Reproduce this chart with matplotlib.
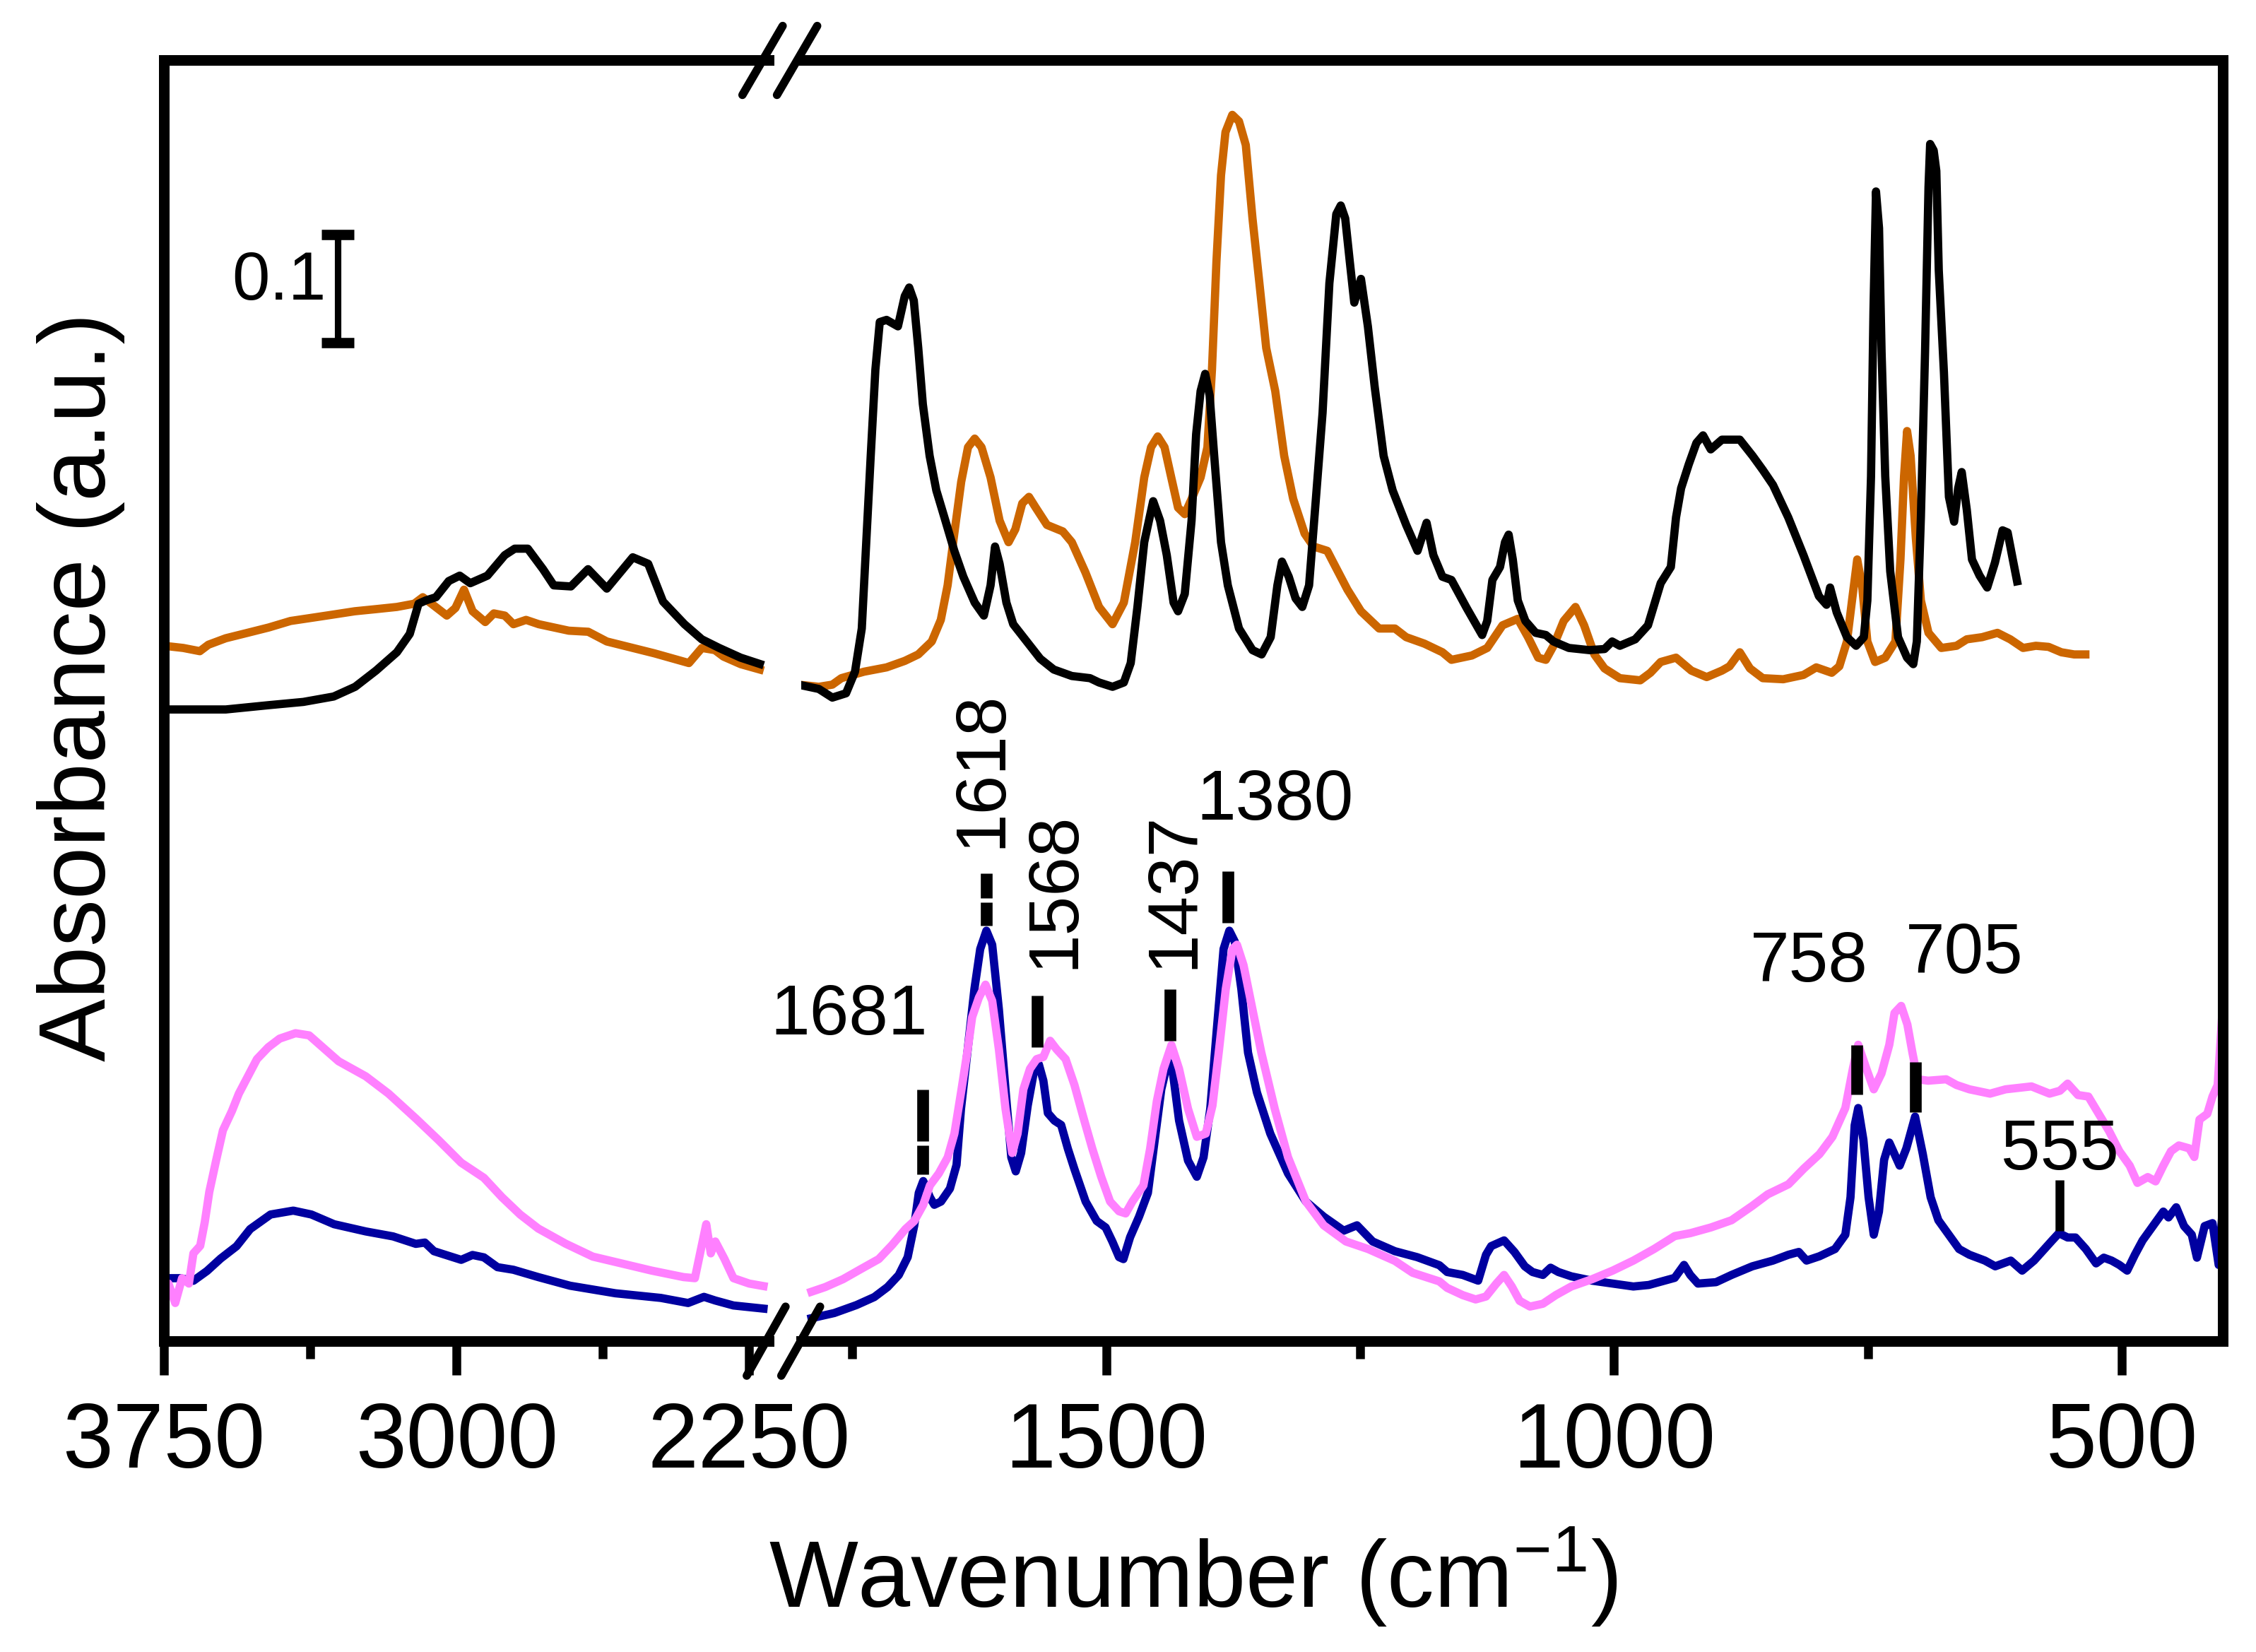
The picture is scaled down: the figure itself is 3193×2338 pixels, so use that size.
import matplotlib
matplotlib.use("Agg")
import matplotlib.pyplot as plt
from matplotlib.lines import Line2D
from matplotlib.ticker import FixedLocator, NullFormatter

plt.rcParams['font.family'] = ['Liberation Sans', 'DejaVu Sans']
plt.rcParams['mathtext.fontset'] = 'custom'
plt.rcParams['mathtext.rm'] = 'Liberation Sans'
plt.rcParams['mathtext.it'] = 'Liberation Sans:italic'

# ---------------- data (wavenumber cm-1, absorbance) ----------------
black_hi = [(3750, 0.580), (3744.5, 0.580), (3591.5, 0.580), (3481, 0.584), (3392.5, 0.587), (3315, 0.592),
            (3260, 0.601), (3206.5, 0.616), (3153, 0.633), (3120, 0.650), (3097.5, 0.678), (3079, 0.681),
            (3053, 0.684), (3020, 0.699), (2992, 0.704), (2965, 0.697), (2921, 0.704), (2876.5, 0.723),
            (2851, 0.729), (2817.5, 0.729), (2778.5, 0.710), (2751, 0.695), (2707, 0.694), (2663, 0.710),
            (2615, 0.692), (2548.5, 0.721), (2509, 0.715), (2471, 0.680), (2416, 0.659), (2371.5, 0.645),
            (2327, 0.637), (2272, 0.628), (2213, 0.621)]

black_lo = [(1803, 0.603), (1783, 0.599), (1769.7, 0.591), (1756.2, 0.595), (1747.4, 0.615), (1740.7, 0.655),
            (1736.3, 0.735), (1731.9, 0.815), (1727.3, 0.895), (1723, 0.939), (1716.3, 0.941), (1705.1, 0.935),
            (1698.4, 0.963), (1694, 0.971), (1689.5, 0.959), (1685.1, 0.915), (1680.6, 0.863), (1673.9, 0.815),
            (1667.3, 0.783), (1658.4, 0.755), (1649.6, 0.727), (1640.7, 0.703), (1629.5, 0.679), (1620.5, 0.667),
            (1613.9, 0.695), (1609.5, 0.731), (1605, 0.715), (1598.3, 0.679), (1591.6, 0.659), (1578.3, 0.643),
            (1565, 0.627), (1551.7, 0.617), (1533.9, 0.611), (1516, 0.609), (1507.1, 0.605), (1493.8, 0.601),
            (1482.7, 0.605), (1475.9, 0.623), (1469.3, 0.675), (1462.6, 0.735), (1453.8, 0.773), (1447, 0.755),
            (1440.4, 0.723), (1433.7, 0.679), (1429.3, 0.671), (1422.7, 0.687), (1416, 0.755), (1411.5, 0.835),
            (1407.1, 0.875), (1402.6, 0.891), (1398.2, 0.871), (1393.7, 0.815), (1387, 0.735), (1380.3, 0.695),
            (1369.3, 0.655), (1356, 0.635), (1347, 0.631), (1338.1, 0.647), (1331.5, 0.695), (1327, 0.717),
            (1320.3, 0.703), (1313.6, 0.683), (1307, 0.675), (1300.3, 0.695), (1293.6, 0.775), (1287, 0.855),
            (1280.3, 0.975), (1273.5, 1.039), (1269.1, 1.047), (1264.7, 1.035), (1260.2, 0.995), (1255.8, 0.957),
            (1249.2, 0.979), (1242.4, 0.935), (1235.7, 0.879), (1226.9, 0.815), (1218, 0.783), (1204.7, 0.751),
            (1193.5, 0.727), (1184.6, 0.753), (1177.9, 0.723), (1169, 0.703),
            (1160.1, 0.700), (1145.1, 0.674), (1129.9, 0.649), (1124.9, 0.662), (1119.8, 0.700), (1112.3, 0.712),
            (1107.4, 0.735), (1103.8, 0.742), (1099.7, 0.719), (1094.8, 0.681), (1087.3, 0.662), (1077.2, 0.651),
            (1067.2, 0.649), (1059.6, 0.643), (1044.5, 0.637), (1024.4, 0.635), (1009.4, 0.636), (1001.9, 0.643),
            (994.3, 0.639), (979.2, 0.645), (966.6, 0.658), (954.1, 0.697), (944.1, 0.712), (939, 0.758),
            (934, 0.785), (926.5, 0.807), (918.9, 0.827), (912.4, 0.834), (904.8, 0.821), (893.8, 0.830),
            (876.2, 0.830), (863.6, 0.815), (853.6, 0.802), (843.5, 0.788), (828.5, 0.758), (813.5, 0.723),
            (798.3, 0.685), (790.8, 0.677), (787.3, 0.693), (780.8, 0.670), (770.7, 0.647), (761.7, 0.639),
            (754.1, 0.647), (750.6, 0.681), (747, 0.796), (744.6, 0.949), (742.1, 1.060), (739.1, 1.026),
            (736.6, 0.911), (733, 0.796), (728.1, 0.708), (720.4, 0.647), (711.5, 0.628), (705.4, 0.622),
            (701.9, 0.643), (697.9, 0.758), (693.8, 0.911), (690.4, 1.064), (688.8, 1.104), (685.3, 1.098),
            (682.7, 1.079), (680.3, 0.987), (675.2, 0.892), (670.3, 0.777), (665.2, 0.754), (661.2, 0.785),
            (657.7, 0.800), (652.7, 0.765), (647.6, 0.719), (640.1, 0.704), (632.6, 0.693), (625, 0.716),
            (617.5, 0.746), (612.5, 0.744), (607.4, 0.719), (602.4, 0.695)]

orange_hi = [(3750, 0.639), (3700.6, 0.637), (3658, 0.634), (3636, 0.640), (3591.5, 0.646), (3536, 0.651),
             (3481, 0.656), (3425.6, 0.662), (3370, 0.665), (3315, 0.668), (3261, 0.671), (3206, 0.673),
             (3153, 0.675), (3108.6, 0.678), (3086.5, 0.684), (3064.4, 0.678), (3025, 0.667), (3003, 0.674),
             (2981, 0.691), (2959, 0.671), (2926.5, 0.661), (2904.5, 0.669), (2876.5, 0.667), (2854.3, 0.659),
             (2822, 0.663), (2789.4, 0.659), (2712.4, 0.653), (2662.6, 0.652), (2615, 0.643), (2548.4, 0.637),
             (2493, 0.632), (2404.6, 0.623), (2371.5, 0.637), (2338, 0.635), (2316, 0.629), (2272, 0.622),
             (2213, 0.616)]

orange_lo = [(1803, 0.603), (1783, 0.601), (1769.7, 0.603), (1760.8, 0.609), (1738.5, 0.615), (1716.3, 0.619),
             (1698.4, 0.625), (1685.1, 0.631), (1671.8, 0.643), (1662.9, 0.663), (1656.2, 0.695), (1649.6, 0.743),
             (1642.8, 0.791), (1636.1, 0.823), (1629.5, 0.831), (1622.8, 0.823), (1613.9, 0.795), (1605, 0.755),
             (1596.2, 0.735), (1589.5, 0.747), (1582.7, 0.771), (1576.1, 0.777), (1569.4, 0.767), (1558.4, 0.751),
             (1542.8, 0.745), (1533.9, 0.735), (1520.5, 0.707), (1507.1, 0.675), (1493.8, 0.659), (1482.7, 0.679),
             (1471.5, 0.735), (1462.6, 0.795), (1455.9, 0.823), (1449.3, 0.833), (1442.6, 0.823), (1436, 0.795),
             (1429.3, 0.767), (1422.7, 0.761), (1416, 0.775), (1407.1, 0.795), (1400.4, 0.823), (1395.9, 0.895),
             (1391.5, 0.995), (1387, 1.075), (1382.6, 1.115), (1375.9, 1.131), (1369.3, 1.125), (1362.6, 1.103),
             (1356, 1.035), (1349.2, 0.975), (1342.5, 0.915), (1333.6, 0.875), (1324.8, 0.815), (1315.9, 0.775),
             (1304.7, 0.743), (1295.9, 0.731), (1282.4, 0.727), (1275.8, 0.715), (1262.5, 0.691), (1249.2, 0.671),
             (1231.3, 0.655), (1215.7, 0.655), (1204.7, 0.647), (1186.8, 0.641), (1169, 0.633),
             (1160.1, 0.626), (1140, 0.630), (1124.9, 0.637), (1109.8, 0.658), (1094.8, 0.664), (1084.7, 0.647),
             (1074.7, 0.628), (1067.2, 0.626), (1059.6, 0.639), (1049.6, 0.662), (1038, 0.675), (1029.5, 0.658),
             (1019.4, 0.631), (1009.4, 0.618), (994.3, 0.609), (974.2, 0.607), (964.2, 0.614), (954.1, 0.624),
             (939, 0.628), (923.9, 0.616), (908.8, 0.610), (893.8, 0.616), (886.3, 0.620), (876.2, 0.633),
             (866.2, 0.618), (853.6, 0.609), (833.5, 0.608), (813.5, 0.612), (800.9, 0.619), (785.7, 0.614),
             (778.2, 0.620), (770.7, 0.643), (765.7, 0.681), (760.6, 0.719), (755.6, 0.693), (750.6, 0.643),
             (743, 0.624), (733, 0.628), (723, 0.643), (718, 0.719), (714.5, 0.796), (711.5, 0.838),
             (708, 0.815), (702.9, 0.739), (697.9, 0.681), (690.4, 0.651), (677.8, 0.637), (662.8, 0.639),
             (652.7, 0.645), (637.6, 0.647), (622.5, 0.651), (609.9, 0.645), (597.3, 0.637), (584.7, 0.639),
             (572.2, 0.638), (559.6, 0.633), (547, 0.631), (531.9, 0.631)]

blue_hi = [(3750, 0.053), (3709.3, 0.053), (3674.4, 0.0506), (3639.5, 0.0597), (3604.6, 0.0712), (3563.9, 0.0826),
           (3529, 0.0985), (3476.7, 0.112), (3418.5, 0.1156), (3372, 0.112), (3313.9, 0.103), (3232.5, 0.0963),
           (3162.7, 0.0917), (3104.5, 0.0848), (3081.3, 0.086), (3058, 0.078), (2988.2, 0.070), (2959.2, 0.0745),
           (2930, 0.0723), (2895.2, 0.0632), (2854.5, 0.0608), (2790.6, 0.054), (2709.1, 0.046), (2592.8, 0.039),
           (2476.5, 0.0347), (2406.7, 0.030), (2366, 0.0357), (2337, 0.0323), (2290.4, 0.0277), (2203, 0.0244)]

blue_lo = [(1794.1, 0.0151), (1767.8, 0.0207), (1745.9, 0.0281), (1728.4, 0.0355), (1715.3, 0.0448),
           (1704.3, 0.0559), (1695.5, 0.0725), (1689.0, 0.102), (1684.6, 0.132), (1680.2, 0.143), (1673.6, 0.128),
           (1669.3, 0.121), (1662.7, 0.124), (1653.9, 0.136), (1647.4, 0.158), (1643.0, 0.210), (1636.4, 0.265),
           (1629.8, 0.321), (1624.1, 0.358), (1618.0, 0.375), (1612.3, 0.362), (1605.7, 0.302), (1599.2, 0.228),
           (1593.5, 0.165), (1589.1, 0.152), (1583.8, 0.169), (1577.3, 0.213), (1570.7, 0.247), (1566.3, 0.251),
           (1561.9, 0.236), (1557.5, 0.206), (1551.0, 0.199), (1544.4, 0.195), (1537.8, 0.173), (1531.3, 0.154),
           (1520.3, 0.124), (1509.4, 0.106), (1500.6, 0.100), (1494.0, 0.087), (1487.4, 0.0725), (1483.1, 0.0707),
           (1476.5, 0.091), (1467.7, 0.110), (1459.0, 0.132), (1452.4, 0.180), (1445.8, 0.228), (1439.3, 0.254),
           (1434.9, 0.247), (1428.3, 0.199), (1419.5, 0.162), (1410.8, 0.147), (1404.2, 0.165), (1397.6, 0.210),
           (1391.1, 0.284), (1384.5, 0.358), (1378.8, 0.375), (1373.5, 0.365), (1367.0, 0.321), (1360.4, 0.262),
           (1351.6, 0.225), (1338.5, 0.187), (1321.0, 0.150), (1303.4, 0.124), (1285.9, 0.110), (1266.2, 0.097),
           (1253.1, 0.102), (1237.7, 0.087), (1215.8, 0.078), (1193.9, 0.0725), (1172.0, 0.065),
           (1164.3, 0.0587), (1149.0, 0.056), (1133.8, 0.0507), (1126.1, 0.0747), (1121.0, 0.0827), (1108.3, 0.088),
           (1098.1, 0.0773), (1087.9, 0.064), (1080.3, 0.0587), (1070.1, 0.056), (1062.5, 0.0627), (1054.8, 0.0587),
           (1042.1, 0.0547), (1021.7, 0.0507), (1001.4, 0.048), (981.0, 0.0453), (965.8, 0.0467), (950.5, 0.0507),
           (940.3, 0.0533), (931.1, 0.0653), (925.0, 0.056), (917.4, 0.048), (899.6, 0.0493), (884.3, 0.056),
           (863.9, 0.064), (843.6, 0.0693), (828.3, 0.0747), (818.1, 0.0773), (810.5, 0.0693), (797.8, 0.0733),
           (782.5, 0.080), (772.3, 0.0933), (767.2, 0.128), (763.1, 0.1947), (759.6, 0.2107), (754.5, 0.1813),
           (749.4, 0.128), (744.3, 0.0933), (739.2, 0.1147), (734.1, 0.1627), (729.0, 0.1787), (723.9, 0.168),
           (718.8, 0.1573), (712.2, 0.1733), (703.6, 0.2027), (696.0, 0.168), (688.3, 0.128), (680.7, 0.1067),
           (670.5, 0.0933), (660.3, 0.080), (650.1, 0.0747), (634.9, 0.0693), (624.7, 0.064), (609.4, 0.0693),
           (598.2, 0.060), (586.5, 0.0693), (576.3, 0.080), (568.6, 0.088), (562.0, 0.0947), (553.4, 0.0907),
           (545.7, 0.0907), (535.5, 0.080), (525.4, 0.0667), (517.8, 0.072), (510.1, 0.0693), (502.5, 0.0653),
           (494.8, 0.060), (487.2, 0.0747), (479.6, 0.088), (469.4, 0.1013), (459.2, 0.1147), (454.1, 0.1093),
           (446.5, 0.1187), (438.8, 0.1013), (431.2, 0.0933), (426.1, 0.072), (418.5, 0.1013), (410.8, 0.104),
           (404.7, 0.0653), (400.6, 0.120)]

pink_hi = [(3750, 0.0255), (3738.4, 0.048), (3721, 0.030), (3703.5, 0.053), (3686, 0.048), (3674.4, 0.076),
           (3657, 0.083), (3645.3, 0.105), (3633.7, 0.133), (3616.3, 0.162), (3598.8, 0.190), (3575.6, 0.208),
           (3558, 0.224), (3534.8, 0.240), (3511.6, 0.256), (3482.5, 0.267), (3453.4, 0.275), (3412.7, 0.280),
           (3377.8, 0.278), (3337, 0.265), (3302.3, 0.254), (3232.5, 0.240), (3174.3, 0.224), (3104.5, 0.201),
           (3046.4, 0.181), (2988.2, 0.160), (2930, 0.146), (2883.6, 0.128), (2837.1, 0.112), (2790.6, 0.099),
           (2720.8, 0.085), (2651, 0.073), (2581.2, 0.067), (2500, 0.060), (2418.4, 0.054), (2389.3, 0.053),
           (2371.9, 0.083), (2360.2, 0.103), (2348.6, 0.076), (2337, 0.087), (2313.7, 0.071), (2290.4, 0.053),
           (2250, 0.048), (2203, 0.045)]

pink_lo = [(1794.1, 0.0392), (1776.6, 0.0448), (1759.1, 0.0521), (1741.5, 0.0615), (1724.0, 0.0707),
           (1710.9, 0.0837), (1697.7, 0.0985), (1689.0, 0.106), (1680.2, 0.121), (1673.6, 0.139), (1664.9, 0.150),
           (1656.1, 0.165), (1649.5, 0.187), (1643.0, 0.225), (1636.4, 0.265), (1632.0, 0.295), (1625.4, 0.313),
           (1618.9, 0.325), (1612.3, 0.310), (1605.7, 0.265), (1599.2, 0.210), (1592.6, 0.169), (1587.3, 0.187),
           (1581.6, 0.228), (1575.1, 0.247), (1568.5, 0.256), (1561.9, 0.258), (1555.3, 0.273), (1548.8, 0.265),
           (1540.0, 0.256), (1531.3, 0.232), (1522.5, 0.202), (1513.7, 0.173), (1505.0, 0.147), (1496.2, 0.124),
           (1487.4, 0.115), (1480.9, 0.113), (1474.3, 0.124), (1463.4, 0.139), (1456.8, 0.173), (1450.2, 0.217),
           (1443.6, 0.247), (1435.8, 0.269), (1428.3, 0.247), (1419.5, 0.210), (1410.8, 0.184), (1402.0, 0.187),
           (1395.4, 0.213), (1388.9, 0.265), (1382.3, 0.321), (1375.7, 0.358), (1371.3, 0.362), (1364.8, 0.343),
           (1356.0, 0.302), (1347.3, 0.262), (1334.1, 0.210), (1321.0, 0.165), (1303.4, 0.124), (1285.9, 0.102),
           (1264.0, 0.087), (1242.1, 0.080), (1215.8, 0.069), (1198.3, 0.058), (1172.0, 0.050),
           (1164.3, 0.044), (1149.0, 0.0373), (1136.3, 0.0333), (1126.1, 0.036), (1115.9, 0.048), (1108.3, 0.056),
           (1100.7, 0.0453), (1093.0, 0.032), (1082.8, 0.0267), (1070.1, 0.0293), (1057.4, 0.0373), (1042.1, 0.0453),
           (1021.8, 0.052), (1001.4, 0.060), (981.0, 0.0693), (960.7, 0.080), (940.3, 0.092), (925.0, 0.0947),
           (904.7, 0.100), (884.3, 0.1067), (863.9, 0.120), (848.7, 0.1307), (828.3, 0.140), (813.0, 0.1547),
           (797.7, 0.168), (785.0, 0.184), (772.3, 0.2107), (764.7, 0.248), (759.6, 0.2693), (751.9, 0.248),
           (744.3, 0.228), (736.7, 0.2427), (729.0, 0.2693), (723.9, 0.2987), (717.3, 0.3053), (711.2, 0.288),
           (706.1, 0.2613), (701.0, 0.2373), (690.8, 0.236), (673.0, 0.2373), (662.8, 0.232), (650.1, 0.228),
           (629.8, 0.224), (614.5, 0.228), (589.0, 0.2307), (571.2, 0.224), (561.0, 0.2267), (553.4, 0.2333),
           (543.2, 0.2227), (533.0, 0.2213), (522.8, 0.2053), (512.6, 0.1893), (502.5, 0.1707), (492.3, 0.1573),
           (484.7, 0.1413), (474.5, 0.1467), (466.8, 0.1427), (459.2, 0.1573), (451.6, 0.1707), (443.9, 0.176),
           (433.7, 0.1733), (428.7, 0.1653), (423.6, 0.200), (415.9, 0.2053), (410.8, 0.2213), (405.7, 0.232),
           (400.6, 0.3067)]

# peak labels
ann_text = ['1681', '1618', '1568', '1437', '1380', '758', '705', '555']
ann_wn = [1753, 1622, 1550, 1433, 1334, 808, 655, 561]
ann_y = [0.296, 0.452, 0.340, 0.340, 0.495, 0.345, 0.353, 0.171]
ann_rot = [0, 90, 90, 90, 0, 0, 0, 0]
# marker bars (wavenumber, y segments)
mark_wn = [1681, 1681, 1618, 1618, 1568, 1437, 1380, 761, 703, 561]
mark_y0 = [0.228, 0.176, 0.428, 0.401, 0.315, 0.321, 0.430, 0.269, 0.253, 0.144]
mark_y1 = [0.180, 0.149, 0.405, 0.380, 0.267, 0.273, 0.382, 0.223, 0.207, 0.097]

hi_major = [3750, 3000, 2250]
hi_minor = [3375, 2625]
lo_major = [1500, 1000, 500]
lo_minor = [1750, 1250, 750]

# ---------------- figure ----------------
W, H, DPI = 3193, 2338, 300
fig = plt.figure(figsize=(W / DPI, H / DPI), dpi=DPI)
bottom, height = 0.1882, 0.7754
ax1 = fig.add_axes([0.07266, bottom, 0.2681, height])
ax2 = fig.add_axes([0.3553, bottom, 0.6300, height])

col = {'black': '#000000', 'orange': '#CC6600', 'blue': '#0000A0', 'pink': '#FF80FF'}
LW = 2.8

def xy(d):
    return [p[0] for p in d], [p[1] for p in d]

for ax, series in ((ax1, [(orange_hi, 'orange'), (black_hi, 'black'), (blue_hi, 'blue'), (pink_hi, 'pink')]),
                   (ax2, [(orange_lo, 'orange'), (black_lo, 'black'), (blue_lo, 'blue'), (pink_lo, 'pink')])):
    for d, c in series:
        x, y = xy(d)
        ax.plot(x, y, color=col[c], lw=LW, solid_joinstyle='round', solid_capstyle='butt')
    ax.set_ylim(-0.0053, 1.1817)
    ax.tick_params(axis='y', left=False, right=False, labelleft=False)
    ax.tick_params(axis='x', which='major', direction='out', length=11.5, width=3, pad=9, labelsize=31)
    ax.tick_params(axis='x', which='minor', direction='out', length=6, width=3)
    for s in ax.spines.values():
        s.set_linewidth(3.6)

ax1.set_xlim(3750, 2200)
ax2.set_xlim(1800, 400.6)
ax1.spines['right'].set_visible(False)
ax2.spines['left'].set_visible(False)
ax1.xaxis.set_major_locator(FixedLocator(hi_major))
ax1.xaxis.set_minor_locator(FixedLocator(hi_minor))
ax2.xaxis.set_major_locator(FixedLocator(lo_major))
ax2.xaxis.set_minor_locator(FixedLocator(lo_minor))
ax1.xaxis.set_minor_formatter(NullFormatter())
ax2.xaxis.set_minor_formatter(NullFormatter())

# scale bar 0.1
ax1.plot([3305, 3305], [0.920, 1.020], color='k', lw=2.2, marker='_', ms=11, mew=3.5)
ax1.text(3455, 0.976, '0.1', fontsize=23, ha='center', va='center')

# peak labels and marker bars
for t, xw, yv, r in zip(ann_text, ann_wn, ann_y, ann_rot):
    if r == 90:
        ax2.text(xw, yv, t, fontsize=24, rotation=90, ha='center', va='bottom')
    else:
        ax2.text(xw, yv, t, fontsize=24, ha='center', va='center')
for xw, a, b in zip(mark_wn, mark_y0, mark_y1):
    ax2.plot([xw, xw], [a, b], color='k', lw=4.0 if xw != 561 else 3.0, solid_capstyle='butt')

# break marks (figure coords from pixel layout of a 1568 x 1148 view)
def fpt(px, py):
    return px / 1568.0, 1 - py / 1148.0

for (xa, ya, xb, yb) in [(519, 956, 546, 908), (543, 956, 570, 908), (516, 66, 544, 18), (540, 66, 568, 18)]:
    p0, p1 = fpt(xa, ya), fpt(xb, yb)
    fig.add_artist(Line2D([p0[0], p1[0]], [p0[1], p1[1]], transform=fig.transFigure,
                          color='k', lw=2.8, solid_capstyle='round'))

fig.text(0.529, 0.027, 'Wavenumber (cm$^{-1}$)', fontsize=32, ha='center', va='baseline')
fig.text(0.036, 0.584, 'Absorbance (a.u.)', fontsize=32, rotation=90, ha='center', va='center')

fig.savefig('out.png', dpi=DPI)
